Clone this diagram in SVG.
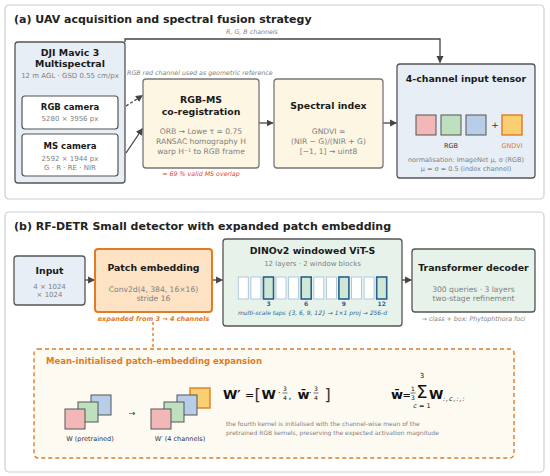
<svg xmlns="http://www.w3.org/2000/svg" width="550" height="476" viewBox="0 0 550 476">
<defs>
<marker id="ah" viewBox="0 0 10 10" refX="9" refY="5" markerWidth="5.5" markerHeight="5.5" orient="auto">
<path d="M0,0 L10,5 L0,10 z" fill="#444"/>
</marker>
<style>
text{font-family:"DejaVu Sans","Liberation Sans",sans-serif;}
.ptitle{font-size:11px;font-weight:bold;fill:#222;}
.bt{font-size:9.4px;font-weight:bold;fill:#1a1a1a;text-anchor:middle;}
.ct{font-size:8.5px;font-weight:bold;fill:#1a1a1a;text-anchor:middle;}
.body{font-size:7.6px;fill:#808080;text-anchor:middle;}
.sm{font-size:7px;fill:#808080;text-anchor:middle;}
.ann{font-size:6.3px;font-style:italic;fill:#808080;}
.panel{fill:#fff;stroke:#cfcfcf;stroke-width:1.2;}
.blue{fill:#e7eef6;stroke:#555;stroke-width:1.3;}
.cream{fill:#fdf6e2;stroke:#777;stroke-width:1.3;}
.green{fill:#e7f3ea;stroke:#555;stroke-width:1.3;}
.white{fill:#fff;stroke:#555;stroke-width:1.2;}
.conn{stroke:#444;stroke-width:1.3;fill:none;}
.sq{stroke:#555;stroke-width:1;}
.blk{fill:#fff;stroke:#a9c3da;stroke-width:0.9;}
.blkh{fill:#cfe8d5;stroke:#2a5f8f;stroke-width:1.6;}
.tap{font-size:6px;font-weight:bold;fill:#2a6496;text-anchor:middle;}
.fr{font-size:6px;text-anchor:middle;}
</style>
</defs>

<!-- Panel (a) -->
<g id="panel-a">
<rect class="panel" x="5" y="5" width="539" height="194" rx="4"/>
<text class="ptitle" x="14" y="23">(a)  UAV acquisition and spectral fusion strategy</text>
</g>

<!-- Panel (b) -->
<g id="panel-b">
<rect class="panel" x="5" y="212" width="539" height="260" rx="4"/>
<text class="ptitle" x="14" y="230">(b)  RF-DETR Small detector with expanded patch embedding</text>
</g>

<g id="connectors">
<path class="conn" d="M125,42 V39 H440 V62.5" marker-end="url(#ah)"/>
<text class="ann" x="252" y="34" text-anchor="middle">R, G, B channels</text>
<path class="conn" d="M126,106 L142.5,95.5" stroke-dasharray="3,2" marker-end="url(#ah)"/>
<path class="conn" d="M126,153 L142.5,128.5" marker-end="url(#ah)"/>
<path class="conn" d="M259,123 H273" marker-end="url(#ah)"/>
<path class="conn" d="M383,123 H396.5" marker-end="url(#ah)"/>
<path class="conn" d="M85,280 H94.5" marker-end="url(#ah)"/>
<path class="conn" d="M212,280 H222.5" marker-end="url(#ah)"/>
<path class="conn" d="M402,280 H411.5" marker-end="url(#ah)"/>
<path d="M153,322 V349" stroke="#e07b26" stroke-width="1.4" stroke-dasharray="3,2.5" fill="none"/>
</g>

<g id="dji">
<rect class="blue" x="15" y="42" width="110" height="141" rx="3"/>
<text class="bt" x="70" y="56">DJI Mavic 3</text>
<text class="bt" x="70" y="67">Multispectral</text>
<text class="sm" x="70" y="77.5">12 m AGL · GSD 0.55 cm/px</text>
</g>

<g id="rgb-camera">
<rect class="white" x="22" y="96" width="96" height="33" rx="3"/>
<text class="ct" x="70" y="109.5">RGB camera</text>
<text class="sm" x="70" y="121">5280 × 3956 px</text>
</g>

<g id="ms-camera">
<rect class="white" x="22" y="134" width="96" height="42" rx="3"/>
<text class="ct" x="70" y="149">MS camera</text>
<text class="sm" x="70" y="161">2592 × 1944 px</text>
<text class="sm" x="70" y="169.5">G · R · RE · NIR</text>
</g>

<text class="ann" x="127" y="75">RGB red channel used as geometric reference</text>

<g id="coreg">
<rect class="cream" x="143" y="79" width="116" height="89" rx="3"/>
<text class="bt" x="201" y="103">RGB-MS</text>
<text class="bt" x="201" y="114.5">co-registration</text>
<text class="body" x="201" y="134">ORB → Lowe τ = 0.75</text>
<text class="body" x="201" y="144">RANSAC homography H</text>
<text class="body" x="201" y="154">warp H⁻¹ to RGB frame</text>
<text class="ann" x="201" y="176" text-anchor="middle" style="fill:#e0443a">≈ 69 % valid MS overlap</text>
</g>

<g id="spectral">
<rect class="cream" x="274" y="79" width="109" height="89" rx="3"/>
<text class="bt" x="328.5" y="109">Spectral index</text>
<text class="body" x="328.5" y="134">GNDVI =</text>
<text class="body" x="328.5" y="144">(NIR − G)/(NIR + G)</text>
<text class="body" x="328.5" y="154">[−1, 1] → uint8</text>
</g>

<g id="tensor">
<rect class="blue" x="397" y="64" width="138" height="114" rx="3"/>
<text class="bt" x="466" y="81.5">4-channel input tensor</text>
<rect class="sq" x="416" y="115" width="20" height="20" fill="#f2b8b8"/>
<rect class="sq" x="441" y="115" width="20" height="20" fill="#bfe0bf"/>
<rect class="sq" x="466" y="115" width="20" height="20" fill="#b8cde8"/>
<text x="495" y="128" style="font-size:9px;fill:#333;text-anchor:middle">+</text>
<rect x="502" y="115" width="20" height="20" fill="#f9cf72" stroke="#e07b26" stroke-width="1.4"/>
<text x="451" y="148" style="font-size:6.5px;fill:#333;text-anchor:middle">RGB</text>
<text x="512" y="148" style="font-size:6.5px;fill:#e07b26;text-anchor:middle">GNDVI</text>
<text x="466" y="161.5" style="font-size:6.5px;fill:#808080;text-anchor:middle">normalisation:  ImageNet μ, σ (RGB)</text>
<text x="466" y="170.5" style="font-size:6.5px;fill:#808080;text-anchor:middle">μ = σ = 0.5  (index channel)</text>
</g>

<g id="input">
<rect class="blue" x="14" y="256" width="71" height="49" rx="3"/>
<text class="bt" x="49.5" y="274">Input</text>
<text class="sm" x="49.5" y="288.5">4 × 1024</text>
<text class="sm" x="49.5" y="297">× 1024</text>
</g>

<g id="patch-embedding">
<rect x="95" y="249" width="117" height="63" rx="3" fill="#fde2c4" stroke="#e07b26" stroke-width="2"/>
<text class="bt" x="153.5" y="271">Patch embedding</text>
<text class="body" x="153.5" y="291.5">Conv2d(4, 384, 16×16)</text>
<text class="body" x="153.5" y="300.5">stride 16</text>
<text x="153.5" y="320.5" style="font-size:6.5px;font-weight:bold;font-style:italic;fill:#e07b26;text-anchor:middle">expanded from 3 → 4 channels</text>
</g>

<g id="dinov2">
<rect class="green" x="223" y="239" width="179" height="87" rx="3"/>
<text class="bt" x="312.5" y="253.5">DINOv2 windowed ViT-S</text>
<text class="sm" x="312.5" y="265.5">12 layers · 2 window blocks</text>
<rect class="blk" x="238.3" y="277" width="10" height="22"/>
<rect class="blk" x="250.9" y="277" width="10" height="22"/>
<rect class="blkh" x="263.5" y="277" width="10" height="22"/>
<rect class="blk" x="276.0" y="277" width="10" height="22"/>
<rect class="blk" x="288.6" y="277" width="10" height="22"/>
<rect class="blkh" x="301.2" y="277" width="10" height="22"/>
<rect class="blk" x="313.8" y="277" width="10" height="22"/>
<rect class="blk" x="326.4" y="277" width="10" height="22"/>
<rect class="blkh" x="338.9" y="277" width="10" height="22"/>
<rect class="blk" x="351.5" y="277" width="10" height="22"/>
<rect class="blk" x="364.1" y="277" width="10" height="22"/>
<rect class="blkh" x="376.7" y="277" width="10" height="22"/>
<text class="tap" x="268.5" y="306">3</text>
<text class="tap" x="306.2" y="306">6</text>
<text class="tap" x="343.9" y="306">9</text>
<text class="tap" x="381.7" y="306">12</text>
<text x="312.5" y="315" style="font-size:6px;font-style:italic;fill:#2a6496;text-anchor:middle">multi-scale taps {3, 6, 9, 12} → 1×1 proj → 256-d</text>
</g>

<g id="decoder">
<rect class="green" x="412" y="249" width="123" height="63" rx="3"/>
<text class="bt" x="473.5" y="271">Transformer decoder</text>
<text class="body" x="473.5" y="291.5">300 queries · 3 layers</text>
<text class="body" x="473.5" y="300.5">two-stage refinement</text>
<text class="ann" x="473.5" y="320.5" text-anchor="middle">→ class + box:  Phytophthora foci</text>
</g>

<g id="expansion">
<rect x="34" y="349" width="480" height="109" rx="4" fill="#fdfaf2" stroke="#e07b26" stroke-width="1.4" stroke-dasharray="4,3"/>
<text x="46" y="364" style="font-size:8.5px;font-weight:bold;fill:#e07b26">Mean-initialised patch-embedding expansion</text>
<rect class="sq" x="91" y="395" width="20" height="20" fill="#b8cde8"/>
<rect class="sq" x="78" y="402" width="20" height="20" fill="#bfe0bf"/>
<rect class="sq" x="65" y="409" width="20" height="20" fill="#f2b8b8"/>
<text x="132" y="416" style="font-size:8px;fill:#333;text-anchor:middle">→</text>
<rect x="190" y="388" width="20" height="20" fill="#f9cf72" stroke="#e07b26" stroke-width="1.4"/>
<rect class="sq" x="177" y="395" width="20" height="20" fill="#b8cde8"/>
<rect class="sq" x="164" y="402" width="20" height="20" fill="#bfe0bf"/>
<rect class="sq" x="151" y="409" width="20" height="20" fill="#f2b8b8"/>
<text x="90" y="441" style="font-size:6.5px;fill:#333;text-anchor:middle">W  (pretrained)</text>
<text x="180" y="441" style="font-size:6.5px;fill:#333;text-anchor:middle">W′  (4 channels)</text>

<g id="formula-1" style="fill:#111">
<text x="223" y="399" style="font-size:13px;font-weight:bold">W′</text>
<text x="245" y="398.5" style="font-size:11px">=</text>
<text x="254.5" y="400" style="font-size:16px;fill:#333">[</text>
<text x="261.5" y="399" style="font-size:13px;font-weight:bold">W</text>
<text x="278" y="396" style="font-size:8px">·</text>
<text class="fr" x="285" y="391">3</text>
<line x1="282.5" y1="393" x2="287.5" y2="393" stroke="#111" stroke-width="0.6"/>
<text class="fr" x="285" y="399.5">4</text>
<text x="288.5" y="399" style="font-size:9px">,</text>
<text x="297.5" y="399" style="font-size:13px;font-weight:bold">w̄</text>
<text x="309" y="396" style="font-size:8px">·</text>
<text class="fr" x="316" y="391">3</text>
<line x1="313.5" y1="393" x2="318.5" y2="393" stroke="#111" stroke-width="0.6"/>
<text class="fr" x="316" y="399.5">4</text>
<text x="324.5" y="400" style="font-size:16px;fill:#333">]</text>
</g>

<g id="formula-2" style="fill:#111">
<text x="391" y="399" style="font-size:13px;font-weight:bold">w̄</text>
<text x="402.5" y="398.5" style="font-size:10px">=</text>
<text class="fr" x="413" y="391">1</text>
<line x1="410.5" y1="393" x2="415.5" y2="393" stroke="#111" stroke-width="0.6"/>
<text class="fr" x="413" y="399.5">3</text>
<text x="422" y="398" style="font-size:18px;text-anchor:middle">Σ</text>
<text x="422" y="378" style="font-size:7px;text-anchor:middle">3</text>
<text x="422" y="407.5" style="font-size:6.5px;font-style:italic;text-anchor:middle">c<tspan style="font-style:normal"> = 1</tspan></text>
<text x="429" y="399" style="font-size:13px;font-weight:bold">W</text>
<text x="443" y="401" style="font-size:6.5px;font-style:italic;letter-spacing:0.9px">:,c,:,:</text>
</g>

<text x="226" y="426" style="font-size:6px;fill:#808080">the fourth kernel is initialised with the channel-wise mean of the</text>
<text x="226" y="435" style="font-size:6px;fill:#808080">pretrained RGB kernels, preserving the expected activation magnitude</text>
</g>
</svg>
